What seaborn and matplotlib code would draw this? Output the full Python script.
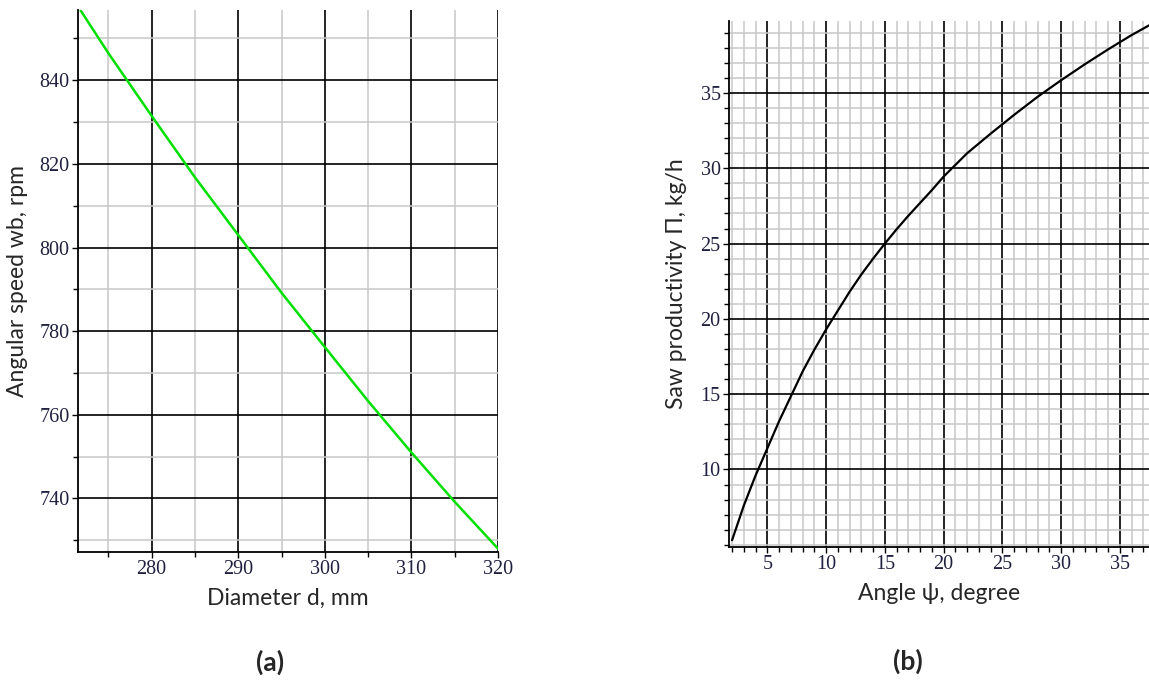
import seaborn as sns
import matplotlib.pyplot as plt
import pandas as pd
import numpy as np
from matplotlib.ticker import MultipleLocator, FixedLocator


# (a) angular speed vs saw diameter
diameter = [271.8, 275, 280, 285, 290, 295, 300, 305, 310, 315, 320]
ang_speed = [856.7, 846.5, 831.5, 816.8, 803.0, 789.2, 776.2, 763.3, 751.0, 739.2, 728.0]

# (b) saw productivity vs angle
angle = [2, 3, 4, 5, 6, 7, 8, 9, 10, 11, 12, 13, 14, 15, 16, 17, 18, 19, 20,
         22, 24, 26, 28, 30, 32, 34, 36, 37.5]
productivity = [5.3, 7.6, 9.6, 11.4, 13.2, 14.85, 16.5, 17.95, 19.3, 20.55, 21.8,
                22.95, 24.0, 25.0, 25.95, 26.85, 27.7, 28.55, 29.45,
                31.0, 32.3, 33.55, 34.75, 35.85, 36.9, 37.9, 38.85, 39.5]
prod_ticks = [10, 15, 20, 25, 30, 35]

df_a = pd.DataFrame({'d': diameter, 'w': ang_speed})
df_b = pd.DataFrame({'psi': angle, 'P': productivity})

sns.set_style('white')
plt.rcParams['font.family'] = ['Lato', 'DejaVu Sans']

fig = plt.figure(figsize=(11.49, 6.89), dpi=100)
ax1 = fig.add_axes([78 / 1149, 1 - 552 / 689, 420 / 1149, 542 / 689])
ax2 = fig.add_axes([729 / 1149, 1 - 547 / 689, 420 / 1149, 526.3 / 689])

tick_font = dict(family='Liberation Serif', size=14.5)
tick_color = '#202040'


def style_axes(ax, xmaj, xmin, ymaj, ymin):
    ax.xaxis.set_major_locator(MultipleLocator(xmaj))
    ax.xaxis.set_minor_locator(MultipleLocator(xmin))
    ax.yaxis.set_major_locator(ymaj if not np.isscalar(ymaj) else MultipleLocator(ymaj))
    ax.yaxis.set_minor_locator(MultipleLocator(ymin))
    ax.grid(which='minor', color='#c8c8c8', lw=1.1, zorder=0)
    ax.grid(which='major', color='black', lw=1.2, zorder=1)
    ax.set_axisbelow(True)
    for s in ['top', 'right']:
        ax.spines[s].set_visible(False)
    for s in ['left', 'bottom']:
        ax.spines[s].set_color('black')
        ax.spines[s].set_linewidth(1.3)
    ax.tick_params(which='both', direction='out', color='black', width=1,
                   left=True, bottom=True, labelcolor=tick_color, pad=2)
    ax.tick_params(which='major', length=4)
    ax.tick_params(which='minor', length=3.5)
    for lab in ax.get_xticklabels() + ax.get_yticklabels():
        lab.set_fontfamily(tick_font['family'])
        lab.set_fontsize(tick_font['size'])


# left panel
sns.lineplot(data=df_a, x='d', y='w', ax=ax1, color='#00e000', lw=1.8, zorder=3)
ax1.set_xlim(271.5, 320)
ax1.set_ylim(727.2, 856.8)
style_axes(ax1, 10, 5, 20, 10)
ax1.set_xlabel('Diameter d, mm', fontsize=16.5, labelpad=6)
ax1.set_ylabel('Angular speed wb, rpm', fontsize=16.5, labelpad=8)

# right panel
sns.lineplot(data=df_b, x='psi', y='P', ax=ax2, color='black', lw=1.6, zorder=3)
ax2.set_xlim(1.74, 37.47)
ax2.set_ylim(4.85, 39.8)
style_axes(ax2, 5, 1, FixedLocator(prod_ticks), 1)
ax2.set_xlabel('Angle ψ, degree', fontsize=16.5, labelpad=6)
ax2.set_ylabel('Saw productivity Π, kg/h', fontsize=16.5, labelpad=10)

fig.text(270 / 1149, 1 - 662 / 689, '(a)', fontsize=19, fontweight='bold',
         ha='center', va='center')
fig.text(908 / 1149, 1 - 661 / 689, '(b)', fontsize=19, fontweight='bold',
         ha='center', va='center')

fig.savefig('out.png', dpi=100)
